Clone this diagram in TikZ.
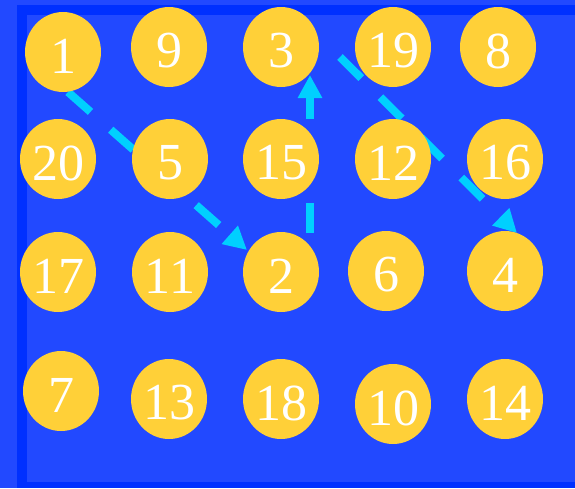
\documentclass[tikz,border=0pt]{standalone}
\usepackage{fontspec}
\setmainfont{Liberation Serif}
\usetikzlibrary{shapes.geometric,arrows.meta}
\definecolor{bgblue}{RGB}{34,73,255}
\definecolor{frameblue}{RGB}{0,48,255}
\definecolor{ballyellow}{RGB}{255,208,56}
\definecolor{arrowcyan}{RGB}{0,208,255}
\pgfdeclarelayer{back}
\pgfdeclarelayer{arrowlayer}
\pgfsetlayers{back,arrowlayer,main}
\begin{document}
\begin{tikzpicture}[x=1pt,y=-1pt,
  ball/.style={ellipse, fill=ballyellow, minimum width=76pt, minimum height=80pt, inner sep=0pt,
    label={[text=white,font=\fontsize{52}{52}\selectfont,yshift=-4pt]center:#1}},
  flow/.style={arrowcyan, line width=8pt, dash pattern=on 30pt off 27pt,
    -{Triangle[length=23pt,width=23pt]}}]
\useasboundingbox (0,0) rectangle (575,488);
\begin{pgfonlayer}{back}
  \fill[bgblue] (0,0) rectangle (575,488);
  \fill[frameblue] (17,5) rectangle (27,488);
  \fill[frameblue] (17,5) rectangle (575,15);
  \fill[frameblue] (17,482) rectangle (575,488);
\end{pgfonlayer}
% row 1
\node[ball=1]  (n1)  at (63,52)  {};
\node[ball=9]  (n9)  at (169,47) {};
\node[ball=3]  (n3)  at (281,47) {};
\node[ball=19] (n19) at (393,47) {};
\node[ball=8]  (n8)  at (498,47) {};
% row 2
\node[ball=20] (n20) at (58,159)  {};
\node[ball=5]  (n5)  at (170,159) {};
\node[ball=15] (n15) at (281,159) {};
\node[ball=12] (n12) at (393,159) {};
\node[ball=16] (n16) at (505,159) {};
% row 3
\node[ball=17] (n17) at (58,272)  {};
\node[ball=11] (n11) at (170,272) {};
\node[ball=2]  (n2)  at (281,272) {};
\node[ball=6]  (n6)  at (386,271) {};
\node[ball=4]  (n4)  at (505,271) {};
% row 4
\node[ball=7]  (n7)  at (61,391)  {};
\node[ball=13] (n13) at (169,399) {};
\node[ball=18] (n18) at (281,399) {};
\node[ball=10] (n10) at (393,404) {};
\node[ball=14] (n14) at (505,399) {};
% connectors
\coordinate (a1s) at ([shift={(5,40)}]n1.center);
\coordinate (a1e) at ([shift={(-34,-22)}]n2.center);
\coordinate (a2s) at ([shift={(29,-39)}]n2.center);
\coordinate (a2e) at ([shift={(29,28)}]n3.center);
\coordinate (a3s) at ([shift={(59,10)}]n3.center);
\coordinate (a3e) at ([shift={(12,-38)}]n4.center);
\begin{pgfonlayer}{arrowlayer}
  \draw[flow] (a1s) -- (a1e);
  \draw[flow] (a2s) -- (a2e);
  \draw[flow] (a3s) -- (a3e);
\end{pgfonlayer}
\end{tikzpicture}
\end{document}
